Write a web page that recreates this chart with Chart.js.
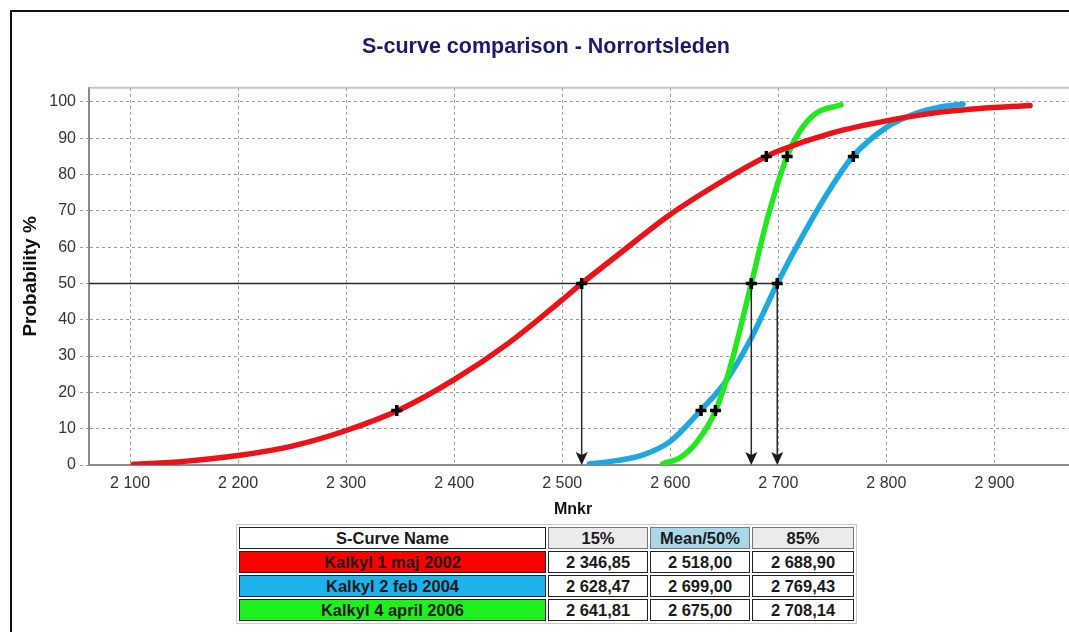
<!DOCTYPE html>
<html>
<head>
<meta charset="utf-8">
<script src="https://cdn.jsdelivr.net/npm/chart.js@4.4.0/dist/chart.umd.min.js"></script>
<style>
html,body{margin:0;padding:0;background:#fff;overflow:hidden;width:1069px;height:632px;}
#c{position:absolute;left:0;top:0;}
#frame{position:absolute;left:10px;top:10px;width:1120px;height:700px;border:2px solid #111;box-sizing:border-box;pointer-events:none;}
#tbl{position:absolute;left:236px;top:524px;border-collapse:separate;border-spacing:2px;border:1px solid #c8c8c8;
  font-family:"Liberation Sans",Arial,sans-serif;font-weight:bold;font-size:16.5px;color:#1a1a1a;background:#fff;}
#tbl td{box-sizing:border-box;border:1px solid #222;height:22px;padding:0;text-align:center;line-height:20px;}
</style>
</head>
<body>
<canvas id="c" width="1092" height="530"></canvas>
<table id="tbl"></table>
<div id="frame"></div>
<script>
// ---- data ----
const xTickValues = [2100, 2200, 2300, 2400, 2500, 2600, 2700, 2800, 2900];
const yTickValues = [0, 10, 20, 30, 40, 50, 60, 70, 80, 90, 100];
const seriesNames = ['Kalkyl 1 maj 2002', 'Kalkyl 2 feb 2004', 'Kalkyl 4 april 2006'];
const levels = [15, 50, 85];
const p15 = [2346.85, 2628.47, 2641.81];
const p50 = [2518.00, 2699.00, 2675.00];
const p85 = [2688.90, 2769.43, 2708.14];
const tableHeaders = ['S-Curve Name', '15%', 'Mean/50%', '85%'];
const xAxisTitle = 'Mnkr';

const redX = [2103, 2150, 2200, 2250, 2300, 2350, 2400, 2450, 2500, 2518, 2550, 2600, 2650, 2689, 2700, 2750, 2800, 2850, 2900, 2933];
const redY = [0.2, 1.0, 2.6, 5.2, 9.5, 15.3, 23.5, 33.5, 45.5, 50, 57.5, 69, 78.5, 85, 86.5, 91.5, 94.8, 97.2, 98.5, 99];
const blueX = [2525, 2550, 2575, 2600, 2628, 2650, 2675, 2699, 2725, 2750, 2769, 2800, 2825, 2850, 2871];
const blueY = [0.3, 1.2, 2.8, 6.5, 15, 22.5, 35, 50, 64.5, 77, 85, 93, 96.6, 98.6, 99.4];
const greenX = [2593, 2610, 2625, 2642, 2655, 2675, 2690, 2708, 2720, 2735, 2758];
const greenY = [0.3, 2.2, 6.5, 15, 26.5, 50, 68, 85, 92, 96.9, 99.2];

const lineColors = ['#ec1218', '#1ea8e2', '#22e81e'];
const cellColors = ['#ff0000', '#1eb2ec', '#1ef01e'];

const FONT = '"Liberation Sans", Arial, sans-serif';

function fmtThousands(v) {
  return String(v).replace(/\B(?=(\d{3})+(?!\d))/g, ' ');
}
function fmtSwe(v) {
  const parts = v.toFixed(2).split('.');
  return fmtThousands(parts[0]) + ',' + parts[1];
}
function pts(xs, ys) { return xs.map((x, i) => ({x: x, y: ys[i]})); }

// ---- table ----
(function buildTable() {
  const t = document.getElementById('tbl');
  const widths = [307, 100, 100, 102];
  const headBg = ['#ffffff', '#ebebeb', '#a9d8e8', '#ebebeb'];
  let tr = document.createElement('tr');
  tableHeaders.forEach((h, i) => {
    const td = document.createElement('td');
    td.textContent = h; td.style.width = widths[i] + 'px'; td.style.background = headBg[i];
    if (i > 0) td.style.borderColor = '#777';
    tr.appendChild(td);
  });
  t.appendChild(tr);
  seriesNames.forEach((n, r) => {
    tr = document.createElement('tr');
    const vals = [n, fmtSwe(p15[r]), fmtSwe(p50[r]), fmtSwe(p85[r])];
    vals.forEach((v, i) => {
      const td = document.createElement('td');
      td.textContent = v; td.style.width = widths[i] + 'px';
      if (i === 0) td.style.background = cellColors[r];
      tr.appendChild(td);
    });
    t.appendChild(tr);
  });
})();

// ---- marker points (15 / 50 / 85 %) ----
const markerPts = [];
[p15, p50, p85].forEach((arr, li) => arr.forEach(v => markerPts.push({x: v, y: levels[li]})));

const refPlugin = {
  id: 'refs',
  beforeDatasetsDraw(chart) {
    const {ctx, chartArea} = chart;
    ctx.save();
    ctx.strokeStyle = '#c4c4c4';
    ctx.lineWidth = 2;
    ctx.beginPath();
    ctx.moveTo(chartArea.left, chartArea.top);
    ctx.lineTo(chartArea.right, chartArea.top);
    ctx.stroke();
    ctx.restore();
  },
  beforeDatasetDraw(chart, args) {
    if (args.index !== 3) return;
    const {ctx, chartArea, scales} = chart;
    const x = scales.x, y = scales.y;
    const y50 = y.getPixelForValue(50), y0 = y.getPixelForValue(0);
    const xs = p50.map(v => x.getPixelForValue(v));
    ctx.save();
    ctx.strokeStyle = '#2a2a2a';
    ctx.fillStyle = '#1a1a1a';
    ctx.lineWidth = 1.5;
    ctx.beginPath();
    ctx.moveTo(chartArea.left, y50);
    ctx.lineTo(Math.max(...xs), y50);
    ctx.stroke();
    xs.forEach(px => {
      ctx.beginPath();
      ctx.moveTo(px, y50);
      ctx.lineTo(px, y0 - 6);
      ctx.stroke();
      ctx.beginPath();
      ctx.moveTo(px, y0);
      ctx.lineTo(px - 6, y0 - 13);
      ctx.lineTo(px, y0 - 10);
      ctx.lineTo(px + 6, y0 - 13);
      ctx.closePath();
      ctx.fill();
    });
    ctx.restore();
  },
  afterDraw(chart) {
    const {ctx} = chart;
    ctx.save();
    ctx.font = 'bold 16px ' + FONT;
    ctx.fillStyle = '#111';
    ctx.textAlign = 'center';
    ctx.textBaseline = 'middle';
    ctx.fillText(xAxisTitle, 573, 510);
    ctx.restore();
  }
};

const curveBase = {pointRadius: 0, borderWidth: 5.5, fill: false, cubicInterpolationMode: 'monotone', borderCapStyle: 'round'};

new Chart(document.getElementById('c'), {
  type: 'line',
  data: {
    datasets: [
      Object.assign({label: seriesNames[0], data: pts(redX, redY), borderColor: lineColors[0], order: 1}, curveBase),
      Object.assign({label: seriesNames[1], data: pts(blueX, blueY), borderColor: lineColors[1], order: 3}, curveBase),
      Object.assign({label: seriesNames[2], data: pts(greenX, greenY), borderColor: lineColors[2], order: 2}, curveBase),
      {type: 'scatter', label: 'markers', data: markerPts, showLine: false, pointStyle: 'cross',
       pointRadius: 5.5, borderWidth: 3.5, borderColor: '#000', backgroundColor: '#000', order: 0}
    ]
  },
  plugins: [refPlugin],
  options: {
    responsive: false,
    animation: false,
    devicePixelRatio: 1,
    layout: {padding: {left: 0, right: 0, top: 0, bottom: 0}},
    plugins: {
      legend: {display: false},
      tooltip: {enabled: false},
      title: {
        display: true,
        text: 'S-curve comparison - Norrortsleden',
        color: '#1b1b6e',
        font: {family: FONT, size: 21.5, weight: 'bold'},
        padding: {top: 34, bottom: 28}
      }
    },
    scales: {
      x: {
        type: 'linear',
        min: 2062,
        max: 2982,
        afterFit(s) { s.height = 65; },
        afterBuildTicks(s) { s.ticks = xTickValues.map(v => ({value: v})); },
        ticks: {
          color: '#333',
          font: {family: FONT, size: 16},
          padding: 9,
          maxRotation: 0,
          autoSkip: false,
          callback: v => fmtThousands(v)
        },
        grid: {color: '#9a9a9a', lineWidth: 1, drawTicks: false},
        border: {color: '#8a8a8a', width: 2, dash: [3, 3]},
        title: {display: false}
      },
      y: {
        type: 'linear',
        min: 0,
        max: 103.9,
        afterFit(s) { s.width = 89; },
        afterBuildTicks(s) { s.ticks = yTickValues.map(v => ({value: v})); },
        ticks: {color: '#333', font: {family: FONT, size: 16}, padding: 4, autoSkip: false},
        grid: {color: '#9a9a9a', lineWidth: 1, drawTicks: true, tickLength: 9, tickBorderDash: [3, 3], tickColor: '#9a9a9a'},
        border: {color: '#8a8a8a', width: 2, dash: [3, 3]},
        title: {display: true, text: 'Probability %', color: '#111', font: {family: FONT, size: 19, weight: 'bold'}, padding: {top: 19, bottom: 0}}
      }
    }
  }
});
</script>
</body>
</html>
